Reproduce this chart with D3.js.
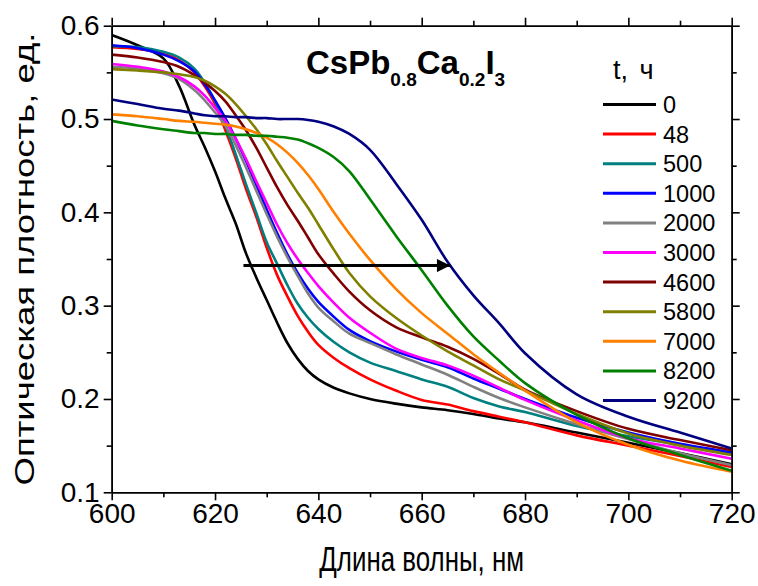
<!DOCTYPE html>
<html><head><meta charset="utf-8">
<script src="https://cdn.jsdelivr.net/npm/d3@7"></script>
<style>body{margin:0;background:#fff}svg{display:block}text{font-family:"Liberation Sans",Arial,sans-serif}</style>
</head><body><svg id="c" width="758" height="586"></svg>
<script>
const wavelength = [600,605,610,613,616,618,620,622,624,626,628,630,632,634,636,638,640,643,646,650,655,660,665,670,675,680,690,700,710,720];
const seriesNames = ["0","48","500","1000","2000","3000","4600","5800","7000","8200","9200"];
const seriesColors = ["#000000","#ff0000","#008080","#0000ff","#808080","#ff00ff","#800000","#808000","#ff8000","#008000","#000080"];
const s0    = [0.590,0.579,0.565,0.536,0.494,0.470,0.444,0.415,0.388,0.356,0.330,0.306,0.282,0.260,0.243,0.230,0.221,0.212,0.206,0.200,0.195,0.191,0.188,0.184,0.179,0.175,0.164,0.153,0.142,0.130];
const s48   = [0.577,0.575,0.570,0.563,0.550,0.535,0.516,0.488,0.458,0.425,0.395,0.362,0.333,0.310,0.289,0.272,0.258,0.244,0.233,0.221,0.209,0.199,0.194,0.187,0.181,0.175,0.161,0.150,0.139,0.127];
const s500  = [0.578,0.577,0.572,0.566,0.554,0.539,0.519,0.493,0.462,0.430,0.399,0.368,0.345,0.322,0.302,0.287,0.275,0.261,0.250,0.239,0.230,0.221,0.213,0.201,0.192,0.186,0.171,0.160,0.151,0.142];
const s1000 = [0.579,0.576,0.569,0.562,0.551,0.537,0.520,0.501,0.479,0.455,0.429,0.403,0.378,0.355,0.335,0.318,0.304,0.288,0.274,0.262,0.251,0.242,0.234,0.222,0.211,0.200,0.180,0.164,0.152,0.143];
const s2000 = [0.556,0.554,0.549,0.543,0.531,0.520,0.507,0.493,0.472,0.448,0.423,0.398,0.374,0.352,0.332,0.313,0.298,0.283,0.270,0.260,0.248,0.237,0.226,0.213,0.201,0.191,0.173,0.157,0.142,0.129];
const s3000 = [0.559,0.556,0.551,0.545,0.535,0.525,0.512,0.498,0.479,0.457,0.433,0.410,0.387,0.367,0.350,0.335,0.321,0.303,0.287,0.271,0.254,0.244,0.236,0.225,0.212,0.199,0.177,0.158,0.147,0.136];
const s4600 = [0.569,0.566,0.561,0.556,0.547,0.539,0.530,0.519,0.504,0.488,0.469,0.448,0.427,0.408,0.391,0.373,0.355,0.334,0.315,0.295,0.277,0.266,0.256,0.243,0.227,0.210,0.187,0.168,0.156,0.145];
const s5800 = [0.5535,0.552,0.550,0.548,0.545,0.541,0.535,0.527,0.516,0.503,0.489,0.473,0.455,0.438,0.421,0.405,0.387,0.360,0.335,0.310,0.287,0.268,0.251,0.236,0.221,0.209,0.184,0.163,0.150,0.140];
const s7000 = [0.505,0.503,0.500,0.498,0.497,0.496,0.495,0.494,0.492,0.489,0.485,0.480,0.473,0.464,0.453,0.440,0.425,0.400,0.377,0.349,0.318,0.292,0.270,0.248,0.228,0.209,0.175,0.151,0.134,0.122];
const s8200 = [0.498,0.493,0.489,0.487,0.485,0.485,0.484,0.484,0.483,0.483,0.482,0.482,0.481,0.480,0.478,0.474,0.469,0.459,0.444,0.414,0.375,0.338,0.300,0.267,0.241,0.217,0.183,0.158,0.140,0.123];
const s9200 = [0.521,0.516,0.511,0.509,0.506,0.504,0.503,0.503,0.502,0.502,0.501,0.501,0.500,0.500,0.500,0.499,0.497,0.492,0.484,0.467,0.431,0.392,0.347,0.311,0.281,0.249,0.205,0.181,0.164,0.147];
const seriesValues = [s0,s48,s500,s1000,s2000,s3000,s4600,s5800,s7000,s8200,s9200];
const xTicks = [600,620,640,660,680,700,720];
const xMinor = [610,630,650,670,690,710];
const yTicks = [0.1,0.2,0.3,0.4,0.5,0.6];
const yMinor = [0.15,0.25,0.35,0.45,0.55];
const arrowFrom = [625.5,0.343];
const arrowTo = [665.5,0.343];
const xTitle = "Длина волны, нм";
const yTitle = "Оптическая плотность, ед.";
const legendTitle = "t, ч";

const svg = d3.select("#c");
const L=111.7, R=731.7, T=25.7, B=492.3;
const x = d3.scaleLinear().domain([600,720]).range([L,R]);
const y = d3.scaleLinear().domain([0.1,0.6]).range([B,T]);

svg.append("defs").append("clipPath").attr("id","clip").append("rect")
  .attr("x",L).attr("y",T).attr("width",R-L).attr("height",B-T);

const line = d3.line().x((d,i)=>x(wavelength[i])).y(d=>y(d)).curve(d3.curveCatmullRom.alpha(0.5));
const g = svg.append("g").attr("clip-path","url(#clip)");
seriesValues.forEach((vals,k)=>{
  g.append("path").attr("d",line(vals)).attr("fill","none")
   .attr("stroke",seriesColors[k]).attr("stroke-width",2.6).attr("stroke-linejoin","round");
});

function styleAxis(sel){ sel.select(".domain").attr("stroke","#000").attr("stroke-width",1.6);
  sel.selectAll(".tick line").attr("stroke","#000").attr("stroke-width",1.6); }
const fmt = d3.format(".1f");
const ax = [
  svg.append("g").attr("transform",`translate(0,${B})`).call(d3.axisBottom(x).tickValues(xTicks).tickSize(8).tickSizeOuter(0).tickPadding(3)),
  svg.append("g").attr("transform",`translate(0,${B})`).call(d3.axisBottom(x).tickValues(xMinor).tickSize(5).tickSizeOuter(0).tickFormat("")),
  svg.append("g").attr("transform",`translate(${L},0)`).call(d3.axisLeft(y).tickValues(yTicks).tickSize(8).tickSizeOuter(0).tickPadding(4).tickFormat(fmt)),
  svg.append("g").attr("transform",`translate(${L},0)`).call(d3.axisLeft(y).tickValues(yMinor).tickSize(5).tickSizeOuter(0).tickFormat("")),
  svg.append("g").attr("transform",`translate(0,${T})`).call(d3.axisTop(x).tickValues(xTicks).tickSize(8).tickSizeOuter(0).tickFormat("")),
  svg.append("g").attr("transform",`translate(0,${T})`).call(d3.axisTop(x).tickValues(xMinor).tickSize(5).tickSizeOuter(0).tickFormat("")),
  svg.append("g").attr("transform",`translate(${R},0)`).call(d3.axisRight(y).tickValues(yTicks).tickSize(8).tickSizeOuter(0).tickFormat("")),
  svg.append("g").attr("transform",`translate(${R},0)`).call(d3.axisRight(y).tickValues(yMinor).tickSize(5).tickSizeOuter(0).tickFormat(""))
];
ax.forEach(styleAxis);
svg.selectAll(".tick text").attr("font-family","Liberation Sans, Arial, sans-serif").attr("font-size",28).attr("fill","#000");

// axis titles
svg.append("text").attr("transform",`translate(${(L+R)/2},571) scale(0.74,1)`).attr("text-anchor","middle")
  .attr("font-size",35).text(xTitle);
svg.append("text").attr("transform",`translate(34,${(T+B)/2}) rotate(-90) scale(1,0.78)`).attr("text-anchor","middle")
  .attr("font-size",36.5).text(yTitle);

// title
const title = svg.append("text").attr("x",306).attr("y",74).attr("font-weight","bold").attr("font-size",33);
title.append("tspan").text("CsPb");
title.append("tspan").attr("font-size",19).attr("dy",12).text("0.8");
title.append("tspan").attr("dy",-12).text("Ca");
title.append("tspan").attr("font-size",19).attr("dy",12).text("0.2");
title.append("tspan").attr("dy",-12).text("I");
title.append("tspan").attr("font-size",19).attr("dy",12).text("3");

// arrow
svg.append("defs").append("marker").attr("id","ah").attr("viewBox","0 0 10 10")
  .attr("refX",10).attr("refY",5).attr("markerWidth",6).attr("markerHeight",4.4).attr("orient","auto")
  .attr("markerUnits","strokeWidth")
  .append("path").attr("d","M0,0 L10,5 L0,10 Z").attr("fill","#000");
svg.append("line").attr("x1",x(arrowFrom[0])).attr("y1",y(arrowFrom[1]))
  .attr("x2",x(arrowTo[0])).attr("y2",y(arrowTo[1]))
  .attr("stroke","#000").attr("stroke-width",3).attr("marker-end","url(#ah)");

// legend
svg.append("text").attr("x",613).attr("y",79).attr("font-size",27)
  .style("word-spacing","4px").text(legendTitle);
seriesNames.forEach((n,k)=>{
  const yy = 104.5 + k*29.6;
  svg.append("line").attr("x1",603).attr("x2",656).attr("y1",yy).attr("y2",yy)
    .attr("stroke",seriesColors[k]).attr("stroke-width",3);
  svg.append("text").attr("x",663).attr("y",yy).attr("dy","0.36em").attr("font-size",23.5).text(n);
});
</script></body></html>
